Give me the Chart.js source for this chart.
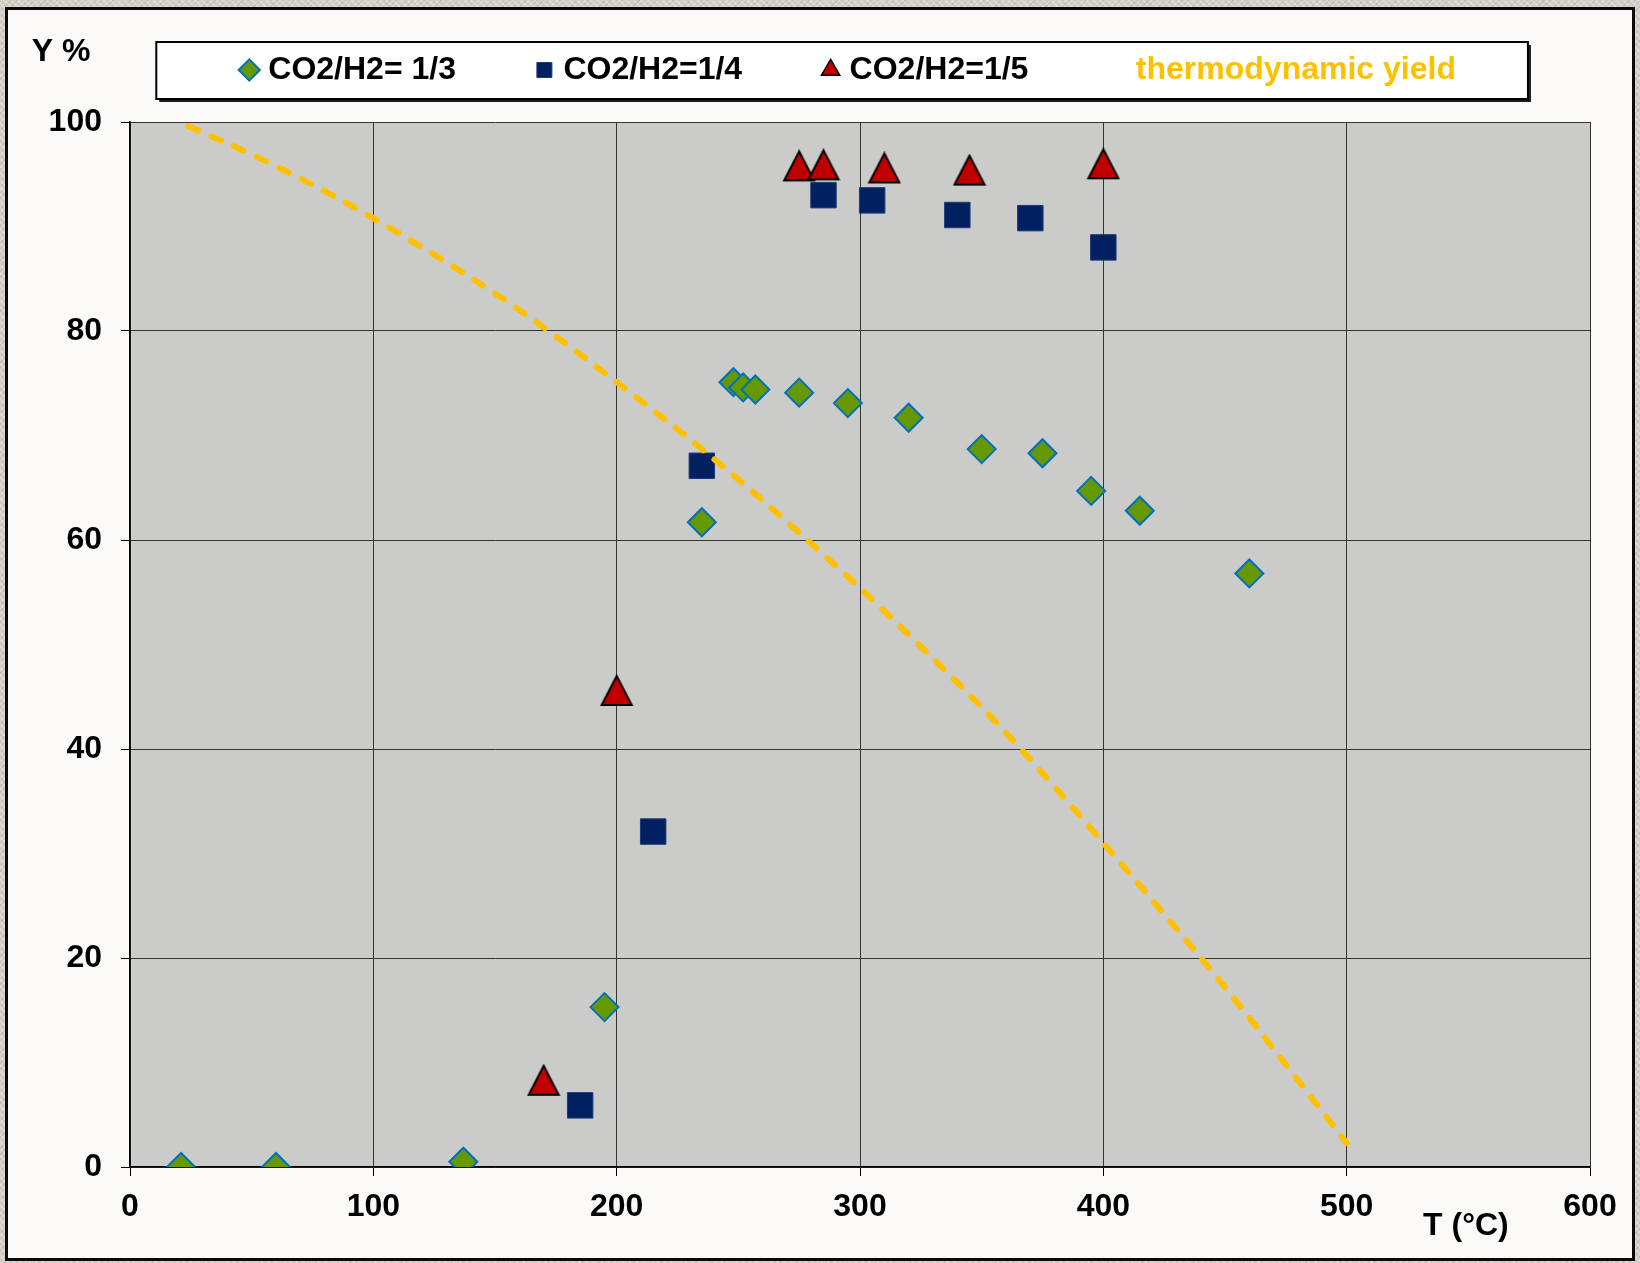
<!DOCTYPE html>
<html>
<head>
<meta charset="utf-8">
<title>Yield vs temperature</title>
<script src="https://cdn.jsdelivr.net/npm/chart.js@4.4.0/dist/chart.umd.min.js"></script>
<style>
  html, body { margin: 0; padding: 0; }
  body {
    width: 1640px; height: 1263px; overflow: hidden; position: relative;
    background-color: #d3cec6;
    background-image:
      repeating-linear-gradient(45deg, rgba(255,255,255,0.25) 0 2px, transparent 2px 5px),
      repeating-linear-gradient(-45deg, rgba(120,110,95,0.18) 0 1px, transparent 1px 4px);
  }
  #card {
    position: absolute; left: 5px; top: 7px;
    width: 1624px; height: 1248px;
    border: 3px solid #0a0a0a;
    background: #fbfaf8;
  }
  canvas { display: block; }
</style>
</head>
<body>
<div id="card"><canvas id="myChart" width="1624" height="1248"></canvas></div>
<script>
// CO2/H2 = 1/3 (diamonds)
var ratio13T = [21, 60, 137, 195, 235, 248, 252, 257, 275, 295, 320, 350, 375, 395, 415, 460];
var ratio13Y = [0, 0, 0.5, 15.3, 61.7, 75.1, 74.6, 74.4, 74.1, 73.1, 71.7, 68.7, 68.3, 64.7, 62.8, 56.8];

// CO2/H2 = 1/4 (squares)
var ratio14T = [185, 215, 235, 285, 305, 340, 370, 400];
var ratio14Y = [5.9, 32.1, 67.1, 93.0, 92.5, 91.1, 90.8, 88.0];

// CO2/H2 = 1/5 (triangles)
var ratio15T = [170, 200, 275, 285, 310, 345, 400];
var ratio15Y = [8.3, 45.6, 95.8, 95.9, 95.6, 95.4, 96.0];

// thermodynamic yield (dashed curve)
var thermoT = [24, 50, 75, 100, 125, 150, 175, 200, 225, 250, 275, 300, 325, 350, 375, 400, 425, 450, 475, 500];
var thermoY = [99.6, 96.9, 94.0, 90.8, 87.3, 83.6, 79.5, 75.1, 70.6, 65.8, 60.7, 55.4, 49.8, 44.0, 37.7, 31.0, 24.2, 17.2, 9.8, 2.3];

var seriesLabels = ['CO2/H2= 1/3', 'CO2/H2=1/4', 'CO2/H2=1/5', 'thermodynamic yield'];
var xTicks = { min: 0, max: 600, step: 100 };
var yTicks = { min: 0, max: 100, step: 20 };

function pts(xs, ys) {
  return xs.map(function (x, i) { return { x: x, y: ys[i] }; });
}

// Excel-like triangle, centred on its bounding box
function triangleMarker(w, h, fill, stroke) {
  var c = document.createElement('canvas');
  c.width = w + 4;
  c.height = h + 4;
  var g = c.getContext('2d');
  g.beginPath();
  g.moveTo(c.width / 2, 2);
  g.lineTo(w + 2, h + 2);
  g.lineTo(2, h + 2);
  g.closePath();
  g.fillStyle = fill;
  g.fill();
  g.lineWidth = 2;
  g.strokeStyle = stroke;
  g.stroke();
  return c;
}

var FONT = '"Liberation Sans", Arial, sans-serif';
Chart.defaults.font.family = FONT;
var boldFont = { size: 32, weight: 'bold' };

// leave room between the legend and the plot
var legendSpacer = {
  id: 'legendSpacer',
  beforeInit: function (chart) {
    var fit = chart.legend.fit;
    chart.legend.fit = function () {
      fit.call(this);
      this.height += 26;
    };
  }
};

// plot background, legend frame and the two axis captions
var chartDecor = {
  id: 'chartDecor',
  beforeDraw: function (chart) {
    var ctx = chart.ctx, a = chart.chartArea;
    ctx.save();
    ctx.fillStyle = '#cbcbc9';
    ctx.fillRect(a.left, a.top, a.right - a.left, a.bottom - a.top);
    var legend = chart.legend, hb = legend.legendHitBoxes;
    if (hb && hb.length) {
      var first = hb[0], last = hb[hb.length - 1];
      var lastItem = legend.legendItems[legend.legendItems.length - 1];
      ctx.font = 'bold 32px ' + FONT;
      var textEnd = last.left + 6 + 16 + ctx.measureText(lastItem.text.trim()).width;
      var mid = first.top + first.height / 2;
      var x0 = first.left - 90, x1 = textEnd + 72;
      var y0 = mid - 28, y1 = mid + 29;
      ctx.fillStyle = '#1a1a1a';
      ctx.fillRect(x0 + 3, y0 + 3, x1 - x0, y1 - y0);
      ctx.fillStyle = '#ffffff';
      ctx.fillRect(x0, y0, x1 - x0, y1 - y0);
      ctx.lineWidth = 2;
      ctx.strokeStyle = '#000';
      ctx.strokeRect(x0, y0, x1 - x0, y1 - y0);
    }
    ctx.restore();
  },
  afterDraw: function (chart) {
    var ctx = chart.ctx, xs = chart.scales.x, a = chart.chartArea;
    ctx.save();
    ctx.font = 'bold 32px ' + FONT;
    ctx.fillStyle = '#000';
    ctx.textAlign = 'center';
    ctx.textBaseline = 'middle';
    ctx.fillText('Y %', a.left - 69, a.top - 70);
    ctx.fillText('T (°C)', xs.getPixelForValue(549), xs.top + 59);
    ctx.restore();
  }
};

var ctx = document.getElementById('myChart').getContext('2d');
var myChart = new Chart(ctx, {
  type: 'scatter',
  data: {
    datasets: [{
      label: seriesLabels[0],
      data: pts(ratio13T, ratio13Y),
      pointStyle: 'rectRot',
      pointRadius: 14,
      pointHoverRadius: 14,
      backgroundColor: '#669900',
      borderColor: '#0070C0',
      borderWidth: 2,
      order: 3
    },
    {
      label: seriesLabels[1],
      data: pts(ratio14T, ratio14Y),
      pointStyle: 'rect',
      pointRadius: 18,
      pointHoverRadius: 18,
      backgroundColor: '#002060',
      borderColor: '#1d3a7a',
      borderWidth: 1,
      order: 2
    },
    {
      label: seriesLabels[2],
      data: pts(ratio15T, ratio15Y),
      pointStyle: triangleMarker(30, 29, '#C00000', '#000000'),
      pointRadius: 17,
      pointHoverRadius: 17,
      backgroundColor: '#C00000',
      borderColor: '#000000',
      borderWidth: 2,
      order: 1
    },
    {
      label: seriesLabels[3],
      data: pts(thermoT, thermoY),
      showLine: true,
      pointRadius: 0,
      pointHoverRadius: 0,
      borderColor: '#FFC000',
      backgroundColor: '#FFC000',
      borderWidth: 6,
      borderDash: [10.5, 14.5],
      borderCapStyle: 'round',
      cubicInterpolationMode: 'monotone',
      fill: false,
      order: 0
    }]
  },
  options: {
    responsive: false,
    animation: false,
    layout: { padding: { left: 40, right: 42, top: 3, bottom: 0 } },
    plugins: {
      tooltip: { enabled: false },
      legend: {
        position: 'top',
        fullSize: false,
        labels: {
          usePointStyle: true,
          boxWidth: 6,
          boxHeight: 15,
          padding: 41,
          color: '#000',
          font: boldFont,
          sort: function (a, b) { return a.datasetIndex - b.datasetIndex; },
          generateLabels: function (chart) {
            var items = Chart.defaults.plugins.legend.labels.generateLabels(chart);
            items.forEach(function (item) {
              if (item.datasetIndex < 3) {
                item.text = item.text + '     ';
              } else {
                item.text = item.text + '  ';
                item.fontColor = '#FFC000';
                item.fillStyle = 'rgba(0,0,0,0)';
                item.strokeStyle = 'rgba(0,0,0,0)';
                item.lineWidth = 0;
              }
              if (item.datasetIndex === 2) {
                item.pointStyle = 'triangle';
                item.fillStyle = '#C00000';
                item.strokeStyle = '#000000';
                item.lineWidth = 1.5;
              }
            });
            return items;
          }
        }
      }
    },
    scales: {
      x: {
        type: 'linear',
        min: xTicks.min,
        max: xTicks.max,
        ticks: { stepSize: xTicks.step, padding: 12, color: '#000', font: boldFont },
        grid: { color: '#333', lineWidth: 1, tickLength: 9, tickColor: '#000' },
        border: { color: '#000', width: 1.5 },
        afterFit: function (s) { s.height = 91; }
      },
      y: {
        min: yTicks.min,
        max: yTicks.max,
        ticks: { stepSize: yTicks.step, padding: 19, color: '#000', font: boldFont },
        grid: { color: '#333', lineWidth: 1, tickLength: 9, tickColor: '#000' },
        border: { color: '#000', width: 1.5 },
        afterFit: function (s) { s.width = 82; }
      }
    }
  },
  plugins: [legendSpacer, chartDecor]
});
</script>
</body>
</html>
